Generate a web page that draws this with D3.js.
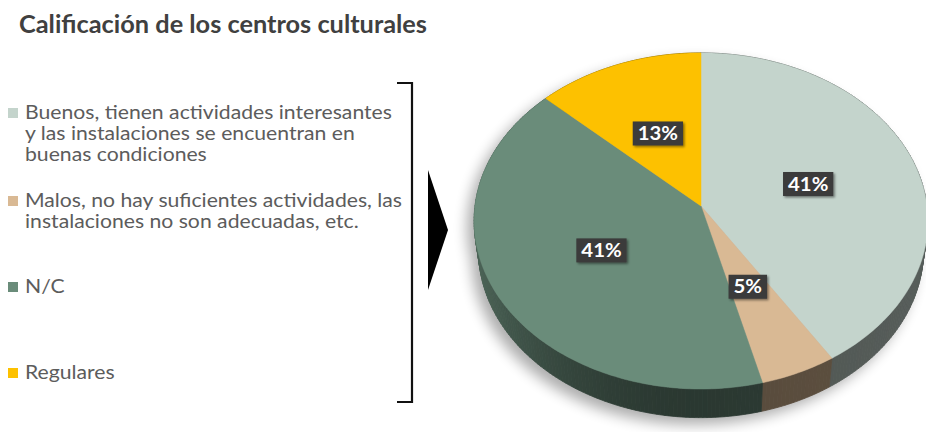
<!DOCTYPE html>
<html>
<head>
<meta charset="utf-8">
<script src="https://cdn.jsdelivr.net/npm/d3@7"></script>
<style>
  html, body { margin: 0; padding: 0; background: #fff; }
  svg { display: block; }
</style>
</head>
<body>
<svg id="chart" width="926" height="432"></svg>
<script>
// ---- data ----
const title = "Calificación de los centros culturales";
const categories = ["Buenos", "Malos", "N/C", "Regulares"];
const legendLines = [
  ["Buenos, tienen actividades interesantes", "y las instalaciones se encuentran en", "buenas condiciones"],
  ["Malos, no hay suficientes actividades, las", "instalaciones no son adecuadas, etc."],
  ["N/C"],
  ["Regulares"]
];
const values = [41, 5, 41, 13];
const labelText = ["41%", "5%", "41%", "13%"];
const colors = ["#c4d4cc", "#d9b994", "#6a8c7a", "#fdc100"];

// ---- setup ----
const svg = d3.select("#chart");
const FONT = "'Century Gothic', Lato, 'DejaVu Sans', sans-serif";

const defs = svg.append("defs");
const blur = defs.append("filter").attr("id", "pieShadow")
  .attr("x", "-20%").attr("y", "-20%").attr("width", "140%").attr("height", "140%");
blur.append("feGaussianBlur").attr("stdDeviation", 7);

const boxShadow = defs.append("filter").attr("id", "boxShadow")
  .attr("x", "-30%").attr("y", "-30%").attr("width", "170%").attr("height", "170%");
boxShadow.append("feDropShadow").attr("dx", 1.5).attr("dy", 1.5)
  .attr("stdDeviation", 1.2).attr("flood-color", "#000").attr("flood-opacity", 0.45);

// ---- title ----
const titleEl = svg.append("text")
  .attr("x", 19).attr("y", 33)
  .attr("font-family", FONT).attr("font-weight", 700).attr("font-size", 24.5)
  .attr("fill", "#404040")
  .text(title);
titleEl.attr("textLength", 408).attr("lengthAdjust", "spacingAndGlyphs");

// ---- legend ----
const legendTop = [119, 207, 293, 379];
const lineH = 21;
const legend = svg.append("g");
const legendFontSize = 18.5;

// common horizontal stretch from the widest line
const probe = legend.append("text").attr("font-family", FONT).attr("font-size", legendFontSize)
  .text(legendLines[1][0]);
const stretch = 377 / probe.node().getComputedTextLength();
probe.remove();

legendLines.forEach((lines, i) => {
  const g = legend.append("g");
  g.append("rect")
    .attr("x", 8).attr("y", legendTop[i] - 11)
    .attr("width", 10).attr("height", 10)
    .attr("fill", colors[i]);
  lines.forEach((ln, j) => {
    const t = g.append("text")
      .attr("x", 25).attr("y", legendTop[i] + j * lineH)
      .attr("font-family", FONT).attr("font-size", legendFontSize)
      .attr("fill", "#5c5c5c")
      .text(ln);
    const w = t.node().getComputedTextLength();
    t.attr("textLength", w * stretch).attr("lengthAdjust", "spacingAndGlyphs");
  });
});

// ---- bracket and arrow ----
svg.append("path")
  .attr("d", d3.line()([[397, 83], [412, 83], [412, 402], [397, 402]]))
  .attr("fill", "none").attr("stroke", "#111").attr("stroke-width", 2.2);
svg.append("path")
  .attr("d", d3.line()([[428, 170], [448, 230], [428, 290]]) + "Z")
  .attr("fill", "#000");

// ---- 3D pie ----
const cx = 701, cy = 206;
const sinP = 0.741, cosP = Math.sqrt(1 - sinP * sinP);
const persp = 0.089;                 // perspective strength
const D = cosP / persp;
const F = 226 * D;
const depth = 0.2;                   // wall height relative to radius

function proj(theta, r, h) {
  const X = r * Math.sin(theta), Z = -r * Math.cos(theta), Y = -h;
  const yp = Z * sinP - Y * cosP;
  const zp = Z * cosP + Y * sinP;
  const s = F / (D - zp);
  return [cx + X * s, cy + yp * s * (225 / 226)];
}

const pie = d3.pie().sort(null).value(d => d).startAngle(0).endAngle(2 * Math.PI);
const arcs = pie(values);

function rimPoints(a0, a1, h) {
  const n = Math.max(2, Math.ceil((a1 - a0) / (Math.PI / 180)));
  return d3.range(n + 1).map(k => proj(a0 + (a1 - a0) * k / n, 1, h));
}

const pieG = svg.append("g");

// soft shadow under the pie
const shadowG = pieG.append("g").attr("filter", "url(#pieShadow)")
  .attr("transform", "translate(-7,7)").attr("opacity", 0.32);
shadowG.append("path").attr("d", d3.line()(rimPoints(0, 2 * Math.PI, 0)) + "Z").attr("fill", "#000");
shadowG.append("path").attr("d", d3.line()(rimPoints(0, 2 * Math.PI, depth)) + "Z").attr("fill", "#000");

// outer walls, painted back to front, shaded by facing direction
function wallShade(theta) {
  const s = Math.sin(theta);
  return s < 0 ? 0.4 + 0.33 * s * s : 0.4 + 0.04 * s;
}
const wallPieces = [];
arcs.forEach((a, i) => {
  const step = Math.PI / 180;
  const n = Math.max(1, Math.ceil((a.endAngle - a.startAngle) / step));
  for (let k = 0; k < n; k++) {
    const t0 = a.startAngle + (a.endAngle - a.startAngle) * k / n;
    const t1 = a.startAngle + (a.endAngle - a.startAngle) * (k + 1) / n;
    const tm = (t0 + t1) / 2;
    const f = wallShade(tm);
    const c = d3.rgb(colors[i]);
    const col = d3.rgb(c.r * f, c.g * f, c.b * f).formatHex();
    wallPieces.push({
      z: -Math.cos(tm),
      pts: [proj(t0, 1, 0), proj(t1, 1, 0), proj(t1, 1, depth), proj(t0, 1, depth)],
      col
    });
  }
});
wallPieces.sort((p, q) => p.z - q.z);
const wallG = pieG.append("g");
wallPieces.forEach(p => {
  wallG.append("path")
    .attr("d", d3.line()(p.pts) + "Z")
    .attr("fill", p.col).attr("stroke", p.col).attr("stroke-width", 0.8);
});

// top faces
const topG = pieG.append("g");
arcs.forEach((a, i) => {
  const pts = [proj(0, 0, 0)].concat(rimPoints(a.startAngle, a.endAngle, 0));
  topG.append("path")
    .attr("d", d3.line()(pts) + "Z")
    .attr("fill", colors[i]).attr("stroke", colors[i]).attr("stroke-width", 0.5);
});

// value labels
const labG = pieG.append("g");
arcs.forEach((a, i) => {
  const mid = (a.startAngle + a.endAngle) / 2;
  const [lx, ly] = proj(mid, 0.5, 0);
  const g = labG.append("g").attr("transform", `translate(${lx},${ly + 1})`);
  const box = g.append("rect").attr("fill", "#3a3a3a").attr("filter", "url(#boxShadow)");
  const t = g.append("text")
    .attr("text-anchor", "middle").attr("dy", "0.36em")
    .attr("font-family", FONT).attr("font-weight", 700).attr("font-size", 18.5)
    .attr("fill", "#fff")
    .text(labelText[i]);
  const w0 = t.node().getComputedTextLength();
  const w = w0 * 1.1;
  t.attr("textLength", w).attr("lengthAdjust", "spacingAndGlyphs");
  const bw = w + 10, bh = 24;
  box.attr("x", -bw / 2).attr("y", -bh / 2).attr("width", bw).attr("height", bh);
});
</script>
</body>
</html>
